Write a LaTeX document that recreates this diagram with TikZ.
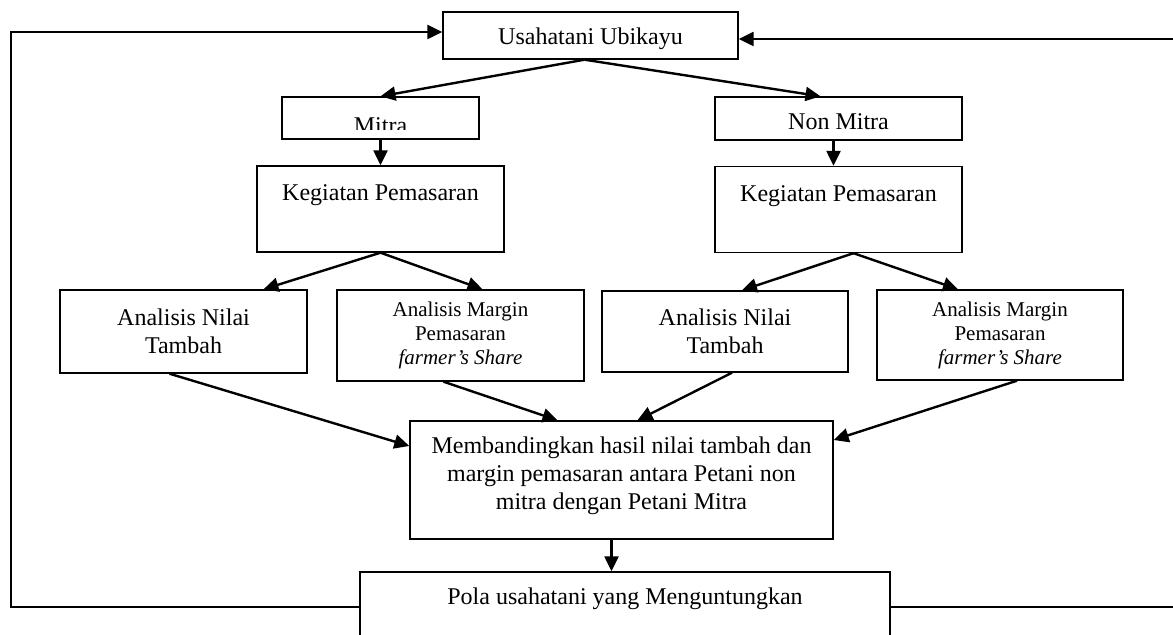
\documentclass[tikz,border=0pt]{standalone}
\usepackage{fontspec}
\setmainfont{Liberation Serif}
\usetikzlibrary{arrows.meta, positioning}

\begin{document}
\begin{tikzpicture}[
  x=0.5pt, y=-0.5pt,
  box/.style={rectangle, draw, line width=0.7pt, inner sep=0pt, align=center, font=\fontsize{12}{14}\selectfont},
  smallbox/.style={box, font=\fontsize{10.5}{12}\selectfont},
  arrow/.style={-{Triangle[length=7.5pt, width=7pt]}, line width=1.2pt}
]
\useasboundingbox (0,0) rectangle (1173,635);

\node[box, minimum width=147.5pt, text height=16.5pt, text depth=7pt] (usaha) at (590.5,35.5) {Usahatani Ubikayu};

% the text of this box is cut off at the bottom
\node[box, minimum width=98.5pt, minimum height=21pt,
  path picture={
    \clip (path picture bounding box.north west) rectangle ([yshift=4.5pt]path picture bounding box.south east);
    \node[anchor=base, inner sep=0pt, font=\fontsize{12}{14}\selectfont] (mitratext) at ([yshift=2.5pt]path picture bounding box.south) {Mitra};
  }] (mitra) at (380.5,118) {};
\node[box, minimum width=123.5pt, text height=16.5pt, text depth=5pt] (nonmitra) at (838.5,118.5) {Non Mitra};

\node[box, minimum width=123.5pt, text height=17.5pt, text depth=25.5pt] (keg1) at (380.5,209) {Kegiatan Pemasaran};
\node[box, minimum width=123.5pt, text height=17.5pt, text depth=25.5pt] (keg2) at (838.5,209.5) {Kegiatan Pemasaran};

\node[box, minimum width=123.5pt, minimum height=41.5pt] (nilai1) at (183.5,331.5) {Analisis Nilai\\Tambah};
\node[smallbox, minimum width=123.5pt, minimum height=45.5pt] (margin1) at (460.5,335.5) {Analisis Margin\\Pemasaran\\\textit{farmer’s Share}};
\node[box, minimum width=123pt, minimum height=40.5pt] (nilai2) at (725,331.5) {Analisis Nilai\\Tambah};
\node[smallbox, minimum width=123pt, minimum height=45pt] (margin2) at (1000,335) {Analisis Margin\\Pemasaran\\\textit{farmer’s Share}};

\node[box, minimum width=211.5pt, text height=44.5pt, text depth=14.5pt] (banding) at (621.5,480) {Membandingkan hasil nilai tambah dan\\margin pemasaran antara Petani non\\mitra dengan Petani Mitra};

\node[box, minimum width=265pt, text height=16.5pt, text depth=18.5pt] (pola) at (625,607) {Pola usahatani yang Menguntungkan};

% corners of the feedback lines
\coordinate (lbot) at (11,607);
\coordinate (ltop) at (11,32);
\coordinate (rbot) at (1185,607);
\coordinate (rtop) at (1185,39);

\draw[arrow] ([xshift=-3pt]usaha.south) -- (mitra.north);
\draw[arrow] ([xshift=-3pt]usaha.south) -- ([xshift=-9pt]nonmitra.north);
\draw[arrow] (mitra.south) -- (keg1.north);
\draw[arrow] ([xshift=-2.5pt]nonmitra.south) -- ([xshift=-2.5pt]keg2.north);

\draw[arrow] (keg1.south) -- ([xshift=40pt]nilai1.north);
\draw[arrow] (keg1.south) -- ([xshift=11pt]margin1.north);
\draw[arrow] ([xshift=7.5pt]keg2.south) -- ([xshift=8.5pt]nilai2.north);
\draw[arrow] ([xshift=7.5pt]keg2.south) -- ([xshift=-21pt]margin2.north);

\draw[arrow] ([xshift=-7pt]nilai1.south) -- ([yshift=17pt]banding.west);
\draw[arrow] ([xshift=-8.5pt]margin1.south) -- ([xshift=-32pt]banding.north);
\draw[arrow] ([xshift=3.5pt]nilai2.south) -- ([xshift=8pt]banding.north);
\draw[arrow] ([xshift=8.5pt]margin2.south) -- ([yshift=20pt]banding.east);

\draw[arrow] ([xshift=-5pt]banding.south) -- ([xshift=-5pt]banding.south |- pola.north);

\draw[arrow] (pola.west) -- (lbot) -- (ltop) -- (ltop -| usaha.west);
\draw[arrow] (pola.east) -- (rbot) -- (rtop) -- (rtop -| usaha.east);

\end{tikzpicture}
\end{document}
